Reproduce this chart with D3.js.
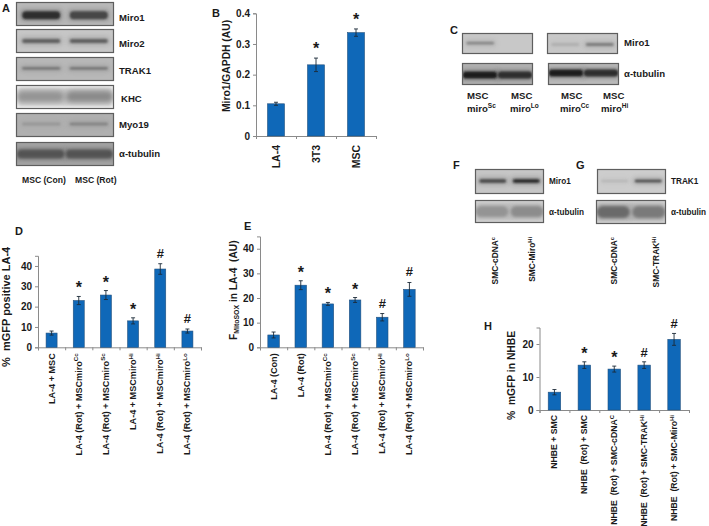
<!DOCTYPE html>
<html><head><meta charset="utf-8">
<script src="https://cdn.jsdelivr.net/npm/d3@7"></script>
<style>
html,body{margin:0;padding:0;background:#fff}
svg{display:block}
text{font-family:"Liberation Sans",Arial,sans-serif;fill:#1a1a1a;white-space:pre}
</style></head><body>
<svg id="c" width="709" height="526"></svg>
<script>
// ---- chart data ----
const bCategories=[["LA-4"],["3T3"],["MSC"]];
const bValues=[0.105,0.232,0.337];
const bErrors=[0.005,0.022,0.012];
const bMarks=["","*","*"];
const bTicks=[0,0.1,0.2,0.3,0.4];
const bTickLabels=["0","0.1","0.2","0.3","0.4"];

const dCategories=[["LA-4 + MSC"],["LA-4 (Rot) + MSCmiro","Cc"],["LA-4 (Rot) + MSCmiro","Sc"],["LA-4 + MSCmiro","Hi"],["LA-4 (Rot) + MSCmiro","Hi"],["LA-4 (Rot) + MSCmiro","Lo"]];
const dValues=[7,23,25.7,13,38.5,8];
const dErrors=[1,2,2.2,1.5,2.6,1];
const dMarks=["","*","*","*","#","#"];
const dTicks=[0,10,20,30,40];

const eCategories=[["LA-4 (Con)"],["LA-4 (Rot)"],["LA-4 (Rot) + MSCmiro","Cc"],["LA-4 (Rot) + MSCmiro","Sc"],["LA-4 (Rot) + MSCmiro","Hi"],["LA-4 (Rot) + MSCmiro","Lo"]];
const eValues=[5,25.2,17.6,19.2,12.2,23.5];
const eErrors=[1.2,1.8,0.6,1,1.5,2.8];
const eMarks=["","*","*","*","#","#"];
const eTicks=[0,10,20,30,40];

const hCategories=[["NHBE + SMC"],["NHBE  (Rot) + SMC"],["NHBE  (Rot) + SMC-cDNA","C"],["NHBE  (Rot) + SMC-TRAK","Hi"],["NHBE  (Rot) + SMC-Miro","Hi"]];
const hValues=[5.4,13.6,12.4,13.6,21.4];
const hErrors=[0.8,1,0.9,1,1.8];
const hMarks=["","*","*","#","#"];
const hTicks=[0,10,20];

// band strengths per lane, read from the blots (0 = none, 1 = black)
const aMiro1=[0.82,0.72], aMiro2=[0.62,0.62], aTrak1=[0.62,0.62], aKhc=[0.42,0.46], aMyo19=[0.42,0.5], aTubulin=[0.68,0.68];
const cMiroLeft=[0.5,0], cMiroRight=[0.32,0.55], cTubLeft=[0.88,0.82], cTubRight=[0.88,0.82];
const fMiro=[0.72,0.85], fTub=[0.42,0.45], gTrak=[0.28,0.72], gTub=[0.58,0.52];

const svg=d3.select("#c");
const defs=svg.append("defs");
[["b1",0.8],["b2",1.4],["b3",2.6],["b4",4]].forEach(([id,s])=>{
  defs.append("filter").attr("id",id).attr("x","-30%").attr("y","-150%").attr("width","160%").attr("height","400%")
    .append("feGaussianBlur").attr("stdDeviation",s);
});

// ---- bar panels ----
function barPanel(o){
  const x=d3.scaleBand().domain(d3.range(o.values.length)).range([o.x0,o.x1]);
  const y=d3.scaleLinear().domain([0,o.top]).range([o.y0,o.yTop]);
  const g=svg.append("g");
  const ax=g.append("g").attr("transform",`translate(${o.x0},0)`)
    .call(d3.axisLeft(y).tickValues(o.ticks).tickSize(3).tickPadding(3).tickFormat(o.fmt||(d=>d)));
  ax.selectAll("path,line").attr("stroke","#8a8a8a").attr("stroke-width",1);
  ax.selectAll("text").attr("font-size",o.tickFont||10).attr("font-weight","bold")
    .attr("font-family","Liberation Sans").attr("fill","#1a1a1a");
  const bx=d3.scaleLinear().domain([0,o.values.length]).range([o.x0,o.x1]);
  const ax2=g.append("g").attr("transform",`translate(0,${o.y0})`)
    .call(d3.axisBottom(bx).tickValues(d3.range(o.values.length+1)).tickSize(3).tickFormat(""));
  ax2.selectAll("path,line").attr("stroke","#8a8a8a").attr("stroke-width",1);

  const bw=o.barW;
  g.selectAll(".bar").data(o.values).join("rect").attr("class","bar")
    .attr("x",(d,i)=>x(i)+x.bandwidth()/2-bw/2).attr("width",bw)
    .attr("y",d=>y(d)).attr("height",d=>y(0)-y(d))
    .attr("fill","#0f68b8").attr("stroke","#24507c").attr("stroke-width",0.6);
  const cx=i=>x(i)+x.bandwidth()/2;
  g.selectAll(".err").data(o.values).join("path").attr("class","err")
    .attr("d",(d,i)=>{const e=o.errors[i],a=cx(i)-2;
      return `M${a},${y(d+e)}h4M${a+2},${y(d+e)}V${y(d-e)}M${a},${y(d-e)}h4`;})
    .attr("fill","none").attr("stroke","#1c2a38").attr("stroke-width",0.9);
  g.selectAll(".mark").data(o.marks).join("text").attr("class","mark")
    .attr("x",(d,i)=>cx(i))
    .attr("y",(d,i)=>y(o.values[i]+o.errors[i])-(d==="*"?o.starGap:o.hashGap))
    .attr("text-anchor","middle").attr("font-weight","bold")
    .attr("font-size",d=>d==="*"?16:13).text(d=>d);
  const ax3=g.append("g").attr("transform",`translate(0,${o.y0})`)
    .call(d3.axisBottom(x).tickSize(0).tickFormat(""));
  ax3.select("path").remove();
  ax3.selectAll(".tick text").each(function(i){
    const t=d3.select(this).attr("transform",`rotate(-90)`)
      .attr("x",-o.labelGap).attr("y",o.labelDx).attr("dy",0)
      .attr("text-anchor","end").attr("font-size",o.labelFont).attr("font-weight","bold")
      .attr("font-family","Liberation Sans").attr("fill","#1a1a1a").text(null);
    richText(t,o.categories[i],o.labelFont);
  });
  ylabel(o.yLabel,o.yLabelX,o.yLabelY,o.yLabelFont);
}
function richText(t,parts,fs){
  t.append("tspan").text(parts[0]);
  if(parts[1]){
    t.append("tspan").attr("dy",-fs*0.38).attr("font-size",fs*0.68).text(parts[1]);
  }
}
function ylabel(parts,x,y,fs){
  const t=svg.append("text").attr("transform",`translate(${x},${y}) rotate(-90)`)
    .attr("font-size",fs).attr("font-weight","bold").attr("text-anchor","start");
  parts.forEach(p=>{
    const s=t.append("tspan").text(p.t);
    if(p.sub){s.attr("dy",2).attr("font-size",fs*0.68);}
    if(p.after){s.attr("dy",-2);}
  });
}
barPanel({values:bValues,errors:bErrors,marks:bMarks,categories:bCategories,ticks:bTicks,top:0.4,
  fmt:(d,i)=>bTickLabels[i],x0:256,x1:376,y0:136,yTop:13.3,barW:17,starGap:4,hashGap:6,
  labelGap:9,labelDx:4,labelFont:10.5,tickFont:10,
  yLabel:[{t:"Miro1/GAPDH (AU)"}],yLabelX:230,yLabelY:112,yLabelFont:10.3});
barPanel({values:dValues,errors:dErrors,marks:dMarks,categories:dCategories,ticks:dTicks,top:45,
  x0:38,x1:201,y0:347.3,yTop:255.8,barW:11,starGap:3,hashGap:6,
  labelGap:6,labelDx:3,labelFont:9.1,tickFont:10,
  yLabel:[{t:"%  mGFP positive LA-4"}],yLabelX:10,yLabelY:367,yLabelFont:11});
barPanel({values:eValues,errors:eErrors,marks:eMarks,categories:eCategories,ticks:eTicks,top:45,
  x0:260,x1:423,y0:347.3,yTop:236.4,barW:11.5,starGap:3,hashGap:6,
  labelGap:6,labelDx:3,labelFont:9.1,tickFont:10,
  yLabel:[{t:"F"},{t:"MitoSOX",sub:1},{t:" in LA-4  (AU)",after:1}],yLabelX:237,yLabelY:340,yLabelFont:10.2});
barPanel({values:hValues,errors:hErrors,marks:hMarks,categories:hCategories,ticks:hTicks,top:25,
  x0:539.5,x1:689,y0:410,yTop:327.5,barW:12.5,starGap:3,hashGap:5,
  labelGap:5,labelDx:3,labelFont:8.7,tickFont:10,
  yLabel:[{t:"%  mGFP in NHBE"}],yLabelX:515,yLabelY:420,yLabelFont:10.3});

// ---- blots ----
let clipN=0;
function blot(o){
  const {x,y,w,h,levels}=o;
  const id="cl"+(clipN++);
  defs.append("clipPath").attr("id",id).append("rect").attr("x",x).attr("y",y).attr("width",w).attr("height",h);
  const g=svg.append("g").attr("clip-path",`url(#${id})`);
  g.append("rect").attr("x",x).attr("y",y).attr("width",w).attr("height",h).attr("fill",o.bg);
  if(o.glow){
    g.append("rect").attr("x",x).attr("y",y).attr("width",w).attr("height",h)
      .attr("fill","none").attr("stroke",o.glow).attr("stroke-width",5).attr("filter","url(#b2)");
  }
  const wide=o.gap!=null;
  const lane=d3.scaleBand().domain(d3.range(levels.length)).range([x,x+w])
    .paddingInner(wide?o.gap:0.2).paddingOuter(wide?0.02:0.13);
  const shade=d=>{const c=Math.round(255*(1-d));return `rgb(${c},${c},${c})`;};
  g.selectAll(".halo").data(levels).join("rect").attr("class","halo")
    .attr("x",(d,i)=>lane(i)-2).attr("width",lane.bandwidth()+4)
    .attr("y",y+h*o.at-o.thick/2-2).attr("height",o.thick+4).attr("rx",3)
    .attr("fill",shade).attr("opacity",d=>d>0?0.28:0).attr("filter","url(#b3)");
  g.selectAll(".band").data(levels).join("rect").attr("class","band")
    .attr("x",(d,i)=>lane(i)).attr("width",lane.bandwidth())
    .attr("y",y+h*o.at-o.thick/2).attr("height",o.thick).attr("rx",o.thick/2)
    .attr("fill",shade).attr("opacity",d=>d>0?1:0)
    .attr("filter",`url(#${o.blur})`);
  svg.append("rect").attr("x",x+.5).attr("y",y+.5).attr("width",w-1).attr("height",h-1)
    .attr("fill","none").attr("stroke","#5e5e5e").attr("stroke-width",1.2);
}
blot({x:16,y:2,w:98,h:24,levels:aMiro1,bg:"#b9b9b9",at:.55,thick:8,blur:"b1"});
blot({x:16,y:29,w:98,h:24,levels:aMiro2,bg:"#c6c6c6",at:.5,thick:4,blur:"b1"});
blot({x:16,y:57,w:98,h:24,levels:aTrak1,bg:"#b8b8b8",at:.47,thick:1.8,blur:"b1"});
blot({x:16,y:85,w:98,h:24,levels:aKhc,bg:"#d6d6d6",at:.48,thick:11,blur:"b3",glow:"#f4f4f4",gap:0.04});
blot({x:16,y:113,w:98,h:24,levels:aMyo19,bg:"#b0b0b0",at:.46,thick:2.6,blur:"b1"});
blot({x:16,y:142,w:98,h:24,levels:aTubulin,bg:"#a4a4a4",at:.5,thick:9,blur:"b2",gap:0.02});
blot({x:462,y:33,w:71,h:21,levels:cMiroLeft,bg:"#c8c8c8",at:.48,thick:2.4,blur:"b1"});
blot({x:547,y:33,w:71,h:21,levels:cMiroRight,bg:"#c8c8c8",at:.55,thick:2.4,blur:"b1"});
blot({x:462,y:63,w:71,h:22,levels:cTubLeft,bg:"#b2b2b2",at:.55,thick:7,blur:"b1",gap:0.02});
blot({x:548,y:63,w:71,h:22,levels:cTubRight,bg:"#bcbcbc",at:.45,thick:7,blur:"b1",gap:0.02});
blot({x:475,y:169,w:69,h:25,levels:fMiro,bg:"#c6c6c6",at:.48,thick:3.4,blur:"b1"});
blot({x:475,y:200,w:69,h:23,levels:fTub,bg:"#c8c8c8",at:.5,thick:11,blur:"b2",gap:0.07,glow:"#d6d6d6"});
blot({x:597,y:169,w:69,h:25,levels:gTrak,bg:"#cdcdcd",at:.48,thick:2.4,blur:"b1"});
blot({x:596,y:200,w:70,h:24,levels:gTub,bg:"#c4c4c4",at:.5,thick:12,blur:"b2",gap:0.07,glow:"#d6d6d6"});

// ---- text labels ----
const blotLabels=[["Miro1",119,18,9.6],["Miro2",119,44,9.6],["TRAK1",119,71,9.6],["KHC",121,99,9.6],["Myo19",119,125,9.6],["α-tubulin",119,154,9.6],
 ["Miro1",624,43,9.6],["α-tubulin",624,74,9.6],["Miro1",549,181,8.2],["α-tubulin",549,212,8.2],["TRAK1",671,181,8.2],["α-tubulin",671,212,8.2]];
svg.selectAll(".bl").data(blotLabels).join("text").attr("class","bl")
 .attr("x",d=>d[1]).attr("y",d=>d[2]).attr("dy",".35em").attr("font-size",d=>d[3]).attr("font-weight","bold").text(d=>d[0]);
const panelLetters=[["A",2,12],["B",212,17],["C",450,34],["D",15,235],["E",244,230],["F",453,169],["G",576,169],["H",484,330]];
svg.selectAll(".pl").data(panelLetters).join("text").attr("class","pl")
 .attr("x",d=>d[1]).attr("y",d=>d[2]).attr("font-size",11).attr("font-weight","bold").text(d=>d[0]);
const smallLabels=[["MSC (Con)",22,183],["MSC (Rot)",75,183]];
svg.selectAll(".sl").data(smallLabels).join("text").attr("class","sl")
 .attr("x",d=>d[1]).attr("y",d=>d[2]).attr("font-size",8.6).attr("font-weight","bold").text(d=>d[0]);
const cLabels=[["MSC",467,99],["MSC",511,99],["MSC",561,99],["MSC",603,99]];
svg.selectAll(".cl").data(cLabels).join("text").attr("class","cl")
 .attr("x",d=>d[1]).attr("y",d=>d[2]).attr("font-size",9.6).attr("font-weight","bold").text(d=>d[0]);
const cLabels2=[["miro","Sc",467,112],["miro","Lo",510,112],["miro","Cc",560,112],["miro","Hi",601,112]];
cLabels2.forEach(d=>{
  const t=svg.append("text").attr("x",d[2]).attr("y",d[3]).attr("font-size",9.6).attr("font-weight","bold");
  richText(t,d,9.6);
});
const rotLabels=[[["SMC-cDNA","c"],498,237],[["SMC-Miro","Hi"],535,237],[["SMC-cDNA","c"],617,237],[["SMC-TRAK","Hi"],659,237]];
rotLabels.forEach(d=>{
  const t=svg.append("text").attr("transform",`translate(${d[1]},${d[2]}) rotate(-90)`)
    .attr("text-anchor","end").attr("font-size",8.4).attr("font-weight","bold");
  richText(t,d[0],8.4);
});
</script>
</body></html>
